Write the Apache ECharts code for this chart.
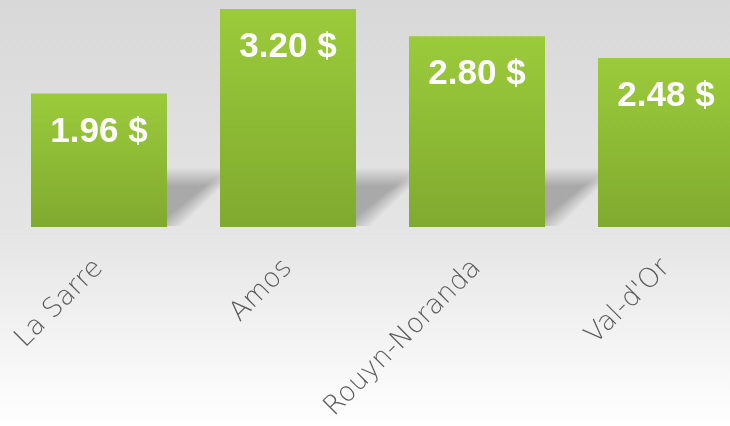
<!DOCTYPE html>
<html>
<head>
<meta charset="utf-8">
<script src="https://cdn.jsdelivr.net/npm/echarts@6/dist/echarts.min.js"></script>
<style>html,body{margin:0;padding:0;}#c{width:730px;height:426px;}</style>
</head>
<body>
<div id="c"></div>
<script>
const categories = ["La Sarre", "Amos", "Rouyn-Noranda", "Val-d'Or"];
const prices = [1.96, 3.20, 2.80, 2.48];

const chart = echarts.init(document.getElementById('c'));
const BAR_W = 136;
chart.setOption({
  animation: false,
  backgroundColor: new echarts.graphic.LinearGradient(0, 0, 0, 1, [
    {offset: 0, color: '#d8d8d8'},
    {offset: 0.55, color: '#e5e5e5'},
    {offset: 1, color: '#ffffff'}
  ]),
  grid: {left: 4.5, top: 9, right: -30.5, height: 218, containLabel: false, outerBoundsMode: 'none'},
  xAxis: {
    type: 'category',
    data: categories,
    axisLine: {show: false},
    axisTick: {show: false},
    axisLabel: {
      rotate: 45,
      margin: 37,
      color: '#595959',
      fontSize: 27,
      fontFamily: 'DejaVu Sans',
      fontWeight: 200,
      interval: 0
    }
  },
  yAxis: {type: 'value', min: 0, max: 3.2, show: false},
  series: [
    {
      type: 'custom',
      z: 1,
      silent: true,
      clip: false,
      data: categories.map((c, i) => [i, prices[i]]),
      renderItem: function (params, api) {
        const base = api.coord([api.value(0), 0]);
        const xR = base[0] + BAR_W / 2;
        const b = base[1];
        const children = [];
        const layers = 11;
        for (let k = 0; k < layers; k++) {
          const e = (k - 5) * 2.4;
          children.push({
            type: 'polygon',
            shape: {points: [
              [xR - 10, b - 50 - e * 0.7],
              [xR + 50 + e, b - 50 - e * 0.7],
              [xR + 50 + e, b - 44 - e * 0.3],
              [xR + 2 + e, b - 1],
              [xR - 10, b - 1]
            ]},
            style: {fill: 'rgba(0,0,0,0.023)'}
          });
        }
        return {type: 'group', children: children};
      }
    },
    {
      type: 'bar',
      z: 2,
      data: prices,
      barWidth: BAR_W,
      itemStyle: {
        color: new echarts.graphic.LinearGradient(0, 0, 0, 1, [
          {offset: 0, color: '#9bcb3b'},
          {offset: 1, color: '#80aa2f'}
        ])
      },
      label: {
        show: true,
        position: 'insideTop',
        distance: 21,
        formatter: p => p.value.toFixed(2) + ' $',
        color: '#ffffff',
        fontSize: 35,
        fontWeight: 'bold',
        fontFamily: 'Liberation Sans'
      }
    }
  ]
});
</script>
</body>
</html>
